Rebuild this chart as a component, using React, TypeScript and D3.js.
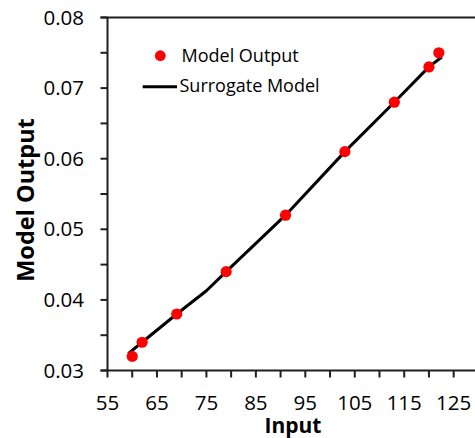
import React from "react";
import * as d3 from "d3";

const inputs = [60, 62, 69, 79, 91, 103, 113, 120, 122];
const outputs = [0.032, 0.034, 0.038, 0.044, 0.052, 0.061, 0.068, 0.073, 0.075];
const surrogateX = [59.2, 62, 69, 75, 79, 91, 103, 113, 120, 122.6];
const surrogateY = [0.0324, 0.034, 0.038, 0.0413, 0.044, 0.052, 0.061, 0.068, 0.073, 0.0744];
const xTicks = [55, 60, 65, 70, 75, 80, 85, 90, 95, 100, 105, 110, 115, 120, 125, 130];
const xLabels = [55, 65, 75, 85, 95, 105, 115, 125];
const yTicks = [0.03, 0.035, 0.04, 0.045, 0.05, 0.055, 0.06, 0.065, 0.07, 0.075, 0.08];
const yLabels = [0.03, 0.04, 0.05, 0.06, 0.07, 0.08];
const legendLabels = ["Model Output", "Surrogate Model"];

const W = 475;
const H = 438;
const FONT = "'Open Sans', 'Noto Sans', sans-serif";

export default function App() {
  const x = d3.scaleLinear().domain([55, 130]).range([107.5, 478.4]);
  const y = d3.scaleLinear().domain([0.03, 0.08]).range([370.5, 17.5]);
  const line = d3
    .line<number>()
    .x((_, i) => x(surrogateX[i]))
    .y((d) => y(d));
  const [x0, x1] = x.range();
  const [y0, y1] = y.range();
  const axisColor = "#1f1f1f";
  return (
    <svg
      width={W}
      height={H}
      style={{ position: "absolute", left: 0, top: 0, background: "#fff" }}
    >
      {/* plot frame */}
      <line x1={x0} x2={x0} y1={y1} y2={y0} stroke={axisColor} strokeWidth={2} />
      <line x1={x0 - 7} x2={x1} y1={y0} y2={y0} stroke={axisColor} strokeWidth={2} />
      <line x1={x0 - 7} x2={x1} y1={y1} y2={y1} stroke={axisColor} strokeWidth={2} />
      {/* y ticks */}
      {yTicks.map((t) => (
        <line key={"yt" + t} x1={x0 - 7} x2={x0} y1={y(t)} y2={y(t)} stroke={axisColor} strokeWidth={2} />
      ))}
      {yLabels.map((t) => (
        <text
          key={"yl" + t}
          x={84}
          y={y(t) + 7}
          textAnchor="end"
          fontFamily={FONT}
          fontSize={20.5}
          fill="#000"
        >
          {d3.format(".2f")(t)}
        </text>
      ))}
      {/* x ticks */}
      {xTicks.map((t) => (
        <line key={"xt" + t} x1={x(t)} x2={x(t)} y1={y0} y2={y0 + 7} stroke={axisColor} strokeWidth={2} />
      ))}
      {xLabels.map((t) => (
        <text
          key={"xl" + t}
          x={x(t)}
          y={409.5}
          textAnchor="middle"
          fontFamily={FONT}
          fontSize={20.5}
          fill="#000"
        >
          {t}
        </text>
      ))}
      {/* axis titles */}
      <text
        x={(x0 + x1) / 2}
        y={433}
        textAnchor="middle"
        fontFamily={FONT}
        fontWeight="bold"
        fontSize={21}
        fill="#000"
      >
        Input
      </text>
      <text
        transform={`translate(34,200) rotate(-90)`}
        textAnchor="middle"
        fontFamily={FONT}
        fontWeight="bold"
        fontSize={23.5}
        fill="#000"
      >
        Model Output
      </text>
      {/* surrogate line */}
      <path d={line(surrogateY) || ""} fill="none" stroke="#000" strokeWidth={3} strokeLinejoin="round" />
      {/* points */}
      {inputs.map((v, i) => (
        <circle key={"p" + i} cx={x(v)} cy={y(outputs[i])} r={5.6} fill="#ff0000" />
      ))}
      {/* legend */}
      <circle cx={160.3} cy={55.7} r={5.4} fill="#ff0000" />
      <text x={181.5} y={61.7} fontFamily={FONT} fontSize={18} fill="#000">
        {legendLabels[0]}
      </text>
      <line x1={142.7} x2={177} y1={86.8} y2={86.8} stroke="#000" strokeWidth={3} />
      <text x={179.5} y={92.3} fontFamily={FONT} fontSize={18} fill="#000">
        {legendLabels[1]}
      </text>
    </svg>
  );
}
